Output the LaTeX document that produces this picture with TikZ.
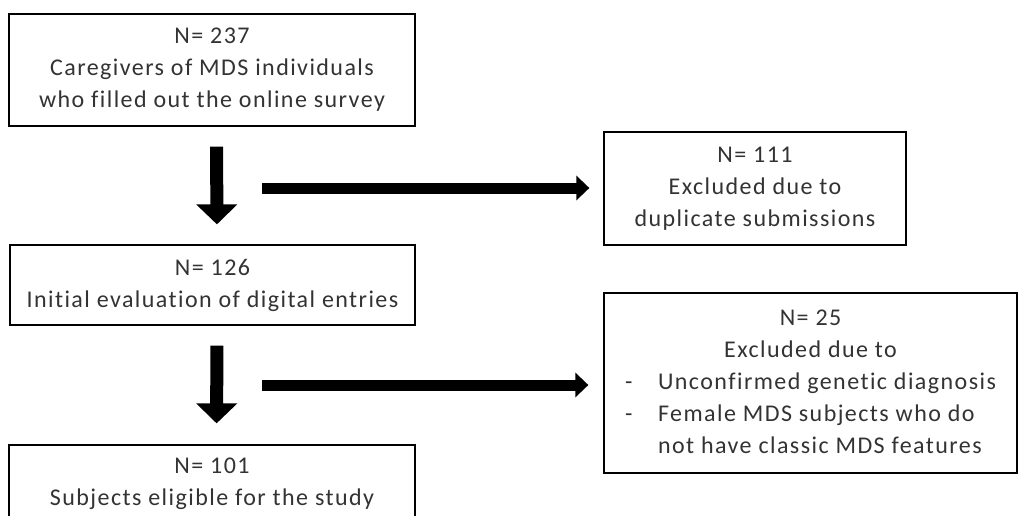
\documentclass[tikz,border=0pt]{standalone}
\usepackage{fontspec}
\setmainfont{Carlito}[Ligatures={NoCommon}, LetterSpace=6]
\usetikzlibrary{arrows.meta}
\begin{document}
\begin{tikzpicture}[x=1pt,y=-1pt,
  box/.style={draw=black, line width=1.3pt, inner sep=0pt, align=center,
    font=\fontsize{24}{32}\selectfont, text=black!80},
  darr/.style={line width=13pt, -{Triangle[width=40pt,length=20pt]}},
  harr/.style={line width=11pt, -{Triangle[width=24pt,length=13pt]}}]
\useasboundingbox (0,0) rectangle (1019,515);
\fill[white] (0,0) rectangle (1019,515);
\node[box, minimum width=406pt, minimum height=112pt] (A) at (212,70)
  {N= 237\\Caregivers of MDS individuals\\who filled out the online survey};
\node[box, minimum width=405pt, minimum height=80pt] (B) at (212.5,285)
  {N= 126\\Initial evaluation of digital entries};
\node[box, minimum width=406pt, minimum height=78pt] (C) at (212,484)
  {N= 101\\Subjects eligible for the study};
\node[box, minimum width=302pt, minimum height=113pt] (D) at (755,188.5)
  {N= 111\\Excluded due to\\duplicate submissions};
\node[box, minimum width=413pt, minimum height=180pt] (E) at (810.5,383)
  {\begin{tabular}{@{}l@{}l@{}}
   \multicolumn{2}{c}{N= 25}\\
   \multicolumn{2}{c}{Excluded due to}\\
   \makebox[33pt][l]{-}&Unconfirmed genetic diagnosis\\
   \makebox[33pt][l]{-}&Female MDS subjects who do\\
   &not have classic MDS features
   \end{tabular}};
\draw[darr, shorten <=20pt, shorten >=20pt] ([xshift=4.5pt]A.south) -- ([xshift=4.5pt]B.north);
\draw[darr, shorten <=20pt, shorten >=21pt] ([xshift=4.5pt]B.south) -- ([xshift=4.5pt]C.north);
\coordinate (h1) at (262,188);
\coordinate (h2) at (262,385);
\draw[harr, shorten >=14pt] (h1) -- (h1 -| D.west);
\draw[harr, shorten >=15pt] (h2) -- (h2 -| E.west);
\end{tikzpicture}
\end{document}
